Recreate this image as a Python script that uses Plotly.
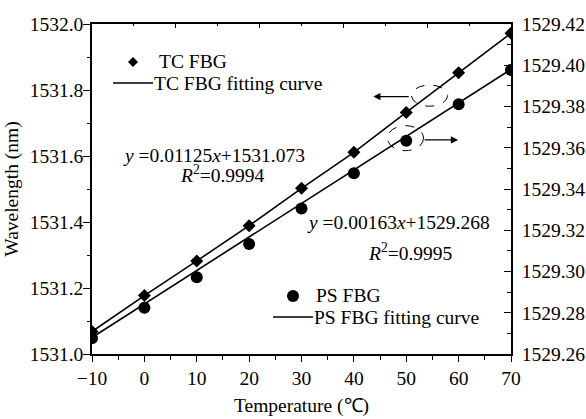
import plotly.graph_objects as go

# ---------------- data ----------------
temps = [-10, 0, 10, 20, 30, 40, 50, 60, 70]
tc_wavelength = [1531.068, 1531.177, 1531.282, 1531.389, 1531.502, 1531.611, 1531.732, 1531.852, 1531.972]
tc_fit = [1531.068, 1531.177, 1531.282, 1531.389, 1531.502, 1531.611, 1531.732, 1531.852, 1531.972]
ps_wavelength = [1529.2676, 1529.2824, 1529.2972, 1529.3133, 1529.3306, 1529.3476, 1529.3634, 1529.3811, 1529.3977]
fit_temps = [-10, 70]
ps_fit = [1529.268, 1529.398]

left_ticks = [1531.0, 1531.2, 1531.4, 1531.6, 1531.8, 1532.0]
right_ticks = [1529.26, 1529.28, 1529.30, 1529.32, 1529.34, 1529.36, 1529.38, 1529.40, 1529.42]
x_ticks = [-10, 0, 10, 20, 30, 40, 50, 60, 70]

FONT = "Liberation Serif"
FS = 19.5
BLACK = "black"

W, H = 586, 419
ML, MR, MT, MB = 92, 75, 24, 65
PW, PH = W - ML - MR, H - MT - MB


def px(x):  # pixel -> paper x
    return (x - ML) / PW


def py(y):  # pixel -> paper y
    return (H - MB - y) / PH


fig = go.Figure()

fig.add_trace(go.Scatter(x=temps, y=tc_wavelength, mode="markers", name="TC FBG",
                         marker=dict(symbol="diamond", size=10, color=BLACK)))
fig.add_trace(go.Scatter(x=temps, y=tc_fit, mode="lines", name="TC FBG fitting curve",
                         line=dict(color=BLACK, width=1.6)))
fig.add_trace(go.Scatter(x=temps, y=ps_wavelength, mode="markers", name="PS FBG",
                         marker=dict(symbol="circle", size=12, color=BLACK), yaxis="y2"))
fig.add_trace(go.Scatter(x=fit_temps, y=ps_fit, mode="lines", name="PS FBG fitting curve",
                         line=dict(color=BLACK, width=1.6), yaxis="y2"))
# helper trace so the top mirror axis is drawn
fig.add_trace(go.Scatter(x=[None], y=[None], xaxis="x2", showlegend=False, hoverinfo="skip"))

axis_common = dict(showline=True, linecolor=BLACK, linewidth=1.6, showgrid=False, zeroline=False,
                   tickcolor=BLACK, tickwidth=1.4, automargin=False,
                   tickfont=dict(family=FONT, size=FS, color=BLACK))

fig.update_layout(
    width=W, height=H,
    margin=dict(l=ML, r=MR, t=MT, b=MB),
    paper_bgcolor="white", plot_bgcolor="white",
    font=dict(family=FONT, size=FS, color=BLACK),
    showlegend=False,
    xaxis=dict(range=[-10, 70], tickvals=x_ticks, ticks="outside", ticklen=6,
               minor=dict(dtick=5, tick0=-5, ticks="outside", ticklen=4, tickcolor=BLACK, tickwidth=1.2),
               title=dict(text="Temperature (℃)", font=dict(family=FONT, size=FS), standoff=10),
               **axis_common),
    xaxis2=dict(range=[-10, 70], overlaying="x", side="top", ticks="inside", ticklen=4,
                tickvals=[-10, 6, 22, 38, 54, 70], showticklabels=False, automargin=False,
                minor=dict(tickvals=[-2, 14, 30, 46, 62], ticks="inside", ticklen=2, tickcolor=BLACK, tickwidth=1.2),
                showline=True, linecolor=BLACK, linewidth=1.6, showgrid=False, zeroline=False,
                tickcolor=BLACK, tickwidth=1.4),
    yaxis=dict(range=[1531.0, 1532.0], tickvals=left_ticks, tickformat=".1f", ticks="outside", ticklen=7,
               ticklabelstandoff=-4,
               minor=dict(dtick=0.1, tick0=1531.1, ticks="outside", ticklen=3, tickcolor=BLACK, tickwidth=1.2),
               title=dict(text="Wavelength (nm)", font=dict(family=FONT, size=FS), standoff=6),
               **axis_common),
    yaxis2=dict(range=[1529.26, 1529.42], tickvals=right_ticks, tickformat=".2f", overlaying="y", side="right",
                ticks="inside", ticklen=7, ticklabelstandoff=5,
                minor=dict(dtick=0.01, tick0=1529.27, ticks="inside", ticklen=4, tickcolor=BLACK, tickwidth=1.2),
                **axis_common),
)

# ---------- hand-placed legends (as in the original figure) ----------
def legend_marker(cx, cy, symbol, r):
    if symbol == "diamond":
        path = (f"M {px(cx - r)} {py(cy)} L {px(cx)} {py(cy - r)} "
                f"L {px(cx + r)} {py(cy)} L {px(cx)} {py(cy + r)} Z")
        fig.add_shape(type="path", xref="paper", yref="paper", path=path,
                      fillcolor=BLACK, line=dict(color=BLACK, width=0))
    else:
        fig.add_shape(type="circle", xref="paper", yref="paper",
                      x0=px(cx - r), x1=px(cx + r), y0=py(cy + r), y1=py(cy - r),
                      fillcolor=BLACK, line=dict(color=BLACK, width=0))


def legend_line(x0, x1, y):
    fig.add_shape(type="line", xref="paper", yref="paper", x0=px(x0), x1=px(x1), y0=py(y), y1=py(y),
                  line=dict(color=BLACK, width=1.6))


def legend_text(x, y, text):
    fig.add_annotation(x=px(x), y=py(y), xref="paper", yref="paper", xanchor="left", yanchor="middle",
                       showarrow=False, text=text, font=dict(family=FONT, size=FS))


legend_marker(133, 62, "diamond", 5)
legend_text(157, 62, "TC FBG")
legend_line(113, 153, 83)
legend_text(152, 83, "TC FBG fitting curve")

legend_marker(293, 296, "circle", 6)
legend_text(314, 295, "PS FBG")
legend_line(273, 313, 317)
legend_text(312, 317, "PS FBG fitting curve")

# equations
fig.add_annotation(x=13.3, y=1531.603, xref="x", yref="y", showarrow=False,
                   text="<i>y</i> =0.01125<i>x</i>+1531.073", font=dict(family=FONT, size=FS))
fig.add_annotation(x=15.0, y=1531.545, xref="x", yref="y", showarrow=False,
                   text="<i>R</i><sup>2</sup>=0.9994", font=dict(family=FONT, size=FS))
fig.add_annotation(x=48.6, y=1531.400, xref="x", yref="y", showarrow=False,
                   text="<i>y</i> =0.00163<i>x</i>+1529.268", font=dict(family=FONT, size=FS))
fig.add_annotation(x=50.7, y=1531.308, xref="x", yref="y", showarrow=False,
                   text="<i>R</i><sup>2</sup>=0.9995", font=dict(family=FONT, size=FS))

# dashed ellipses
fig.add_shape(type="circle", xref="x", yref="y", x0=51.0, x1=57.9, y0=1531.751, y1=1531.815,
              line=dict(color=BLACK, width=1, dash="dash"))
fig.add_shape(type="circle", xref="x", yref="y2", x0=46.4, x1=53.3, y0=1529.3586, y1=1529.3707,
              line=dict(color=BLACK, width=1, dash="dash"))

# arrows
fig.add_annotation(x=43.7, y=1531.780, xref="x", yref="y", ax=37, ay=0, showarrow=True,
                   arrowhead=2, arrowsize=1.2, arrowwidth=1.2, arrowcolor=BLACK, text="")
fig.add_annotation(x=59.9, y=1529.3638, xref="x", yref="y2", ax=-35, ay=0, showarrow=True,
                   arrowhead=2, arrowsize=1.2, arrowwidth=1.2, arrowcolor=BLACK, text="")

fig.write_html("out.html")
